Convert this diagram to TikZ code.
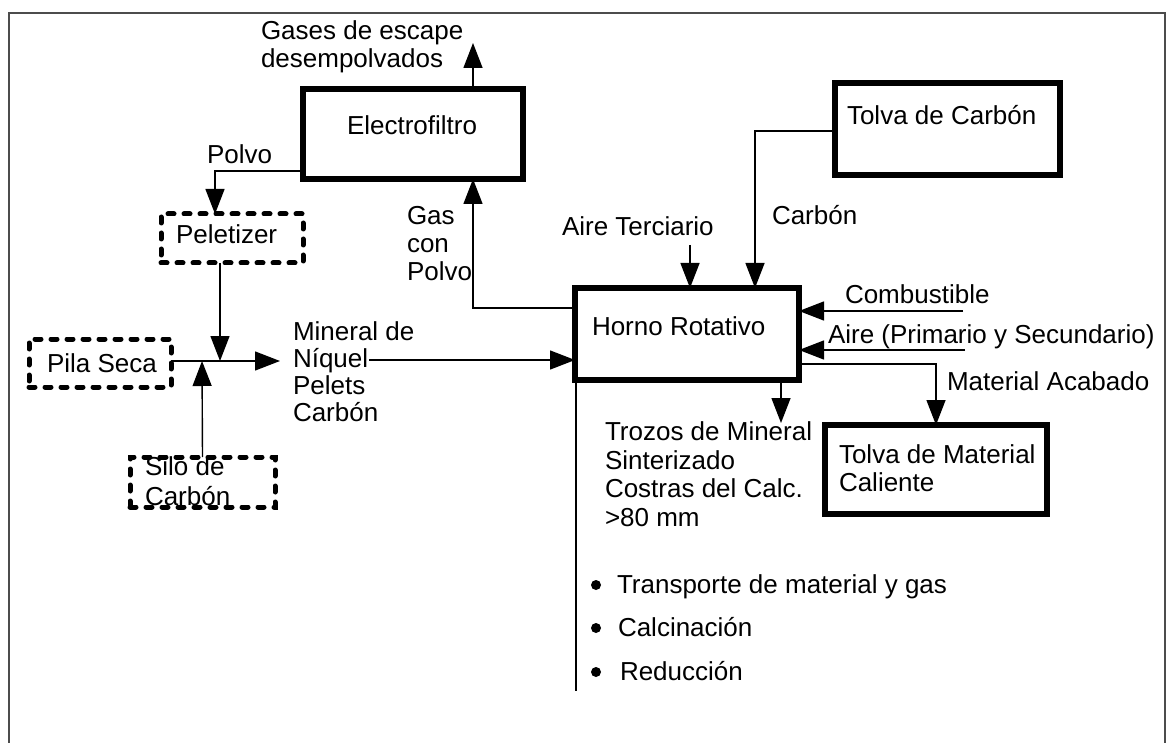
\documentclass[tikz,border=0pt]{standalone}
\usepackage{fontspec}
\setmainfont{Liberation Sans}
\usetikzlibrary{arrows.meta}
\begin{document}
\begin{tikzpicture}[x=1pt,y=-1pt,
  every node/.style={inner sep=0pt, outer sep=0pt},
  lbl/.style={anchor=base west, font=\fontsize{26}{28}\selectfont},
  thickbox/.style={draw, line width=6pt, rectangle, minimum width=#1},
  dotbox/.style={draw, line width=5pt, line cap=round, dash pattern=on 6pt off 10pt, rectangle, minimum width=#1},
  wire/.style={line width=1.4pt},
  arr/.style={wire, -{Triangle[length=25pt,width=19pt]}},
  bul/.style={circle, fill, minimum size=10pt}]
% page and outer frame
\useasboundingbox (0,0) rectangle (1167,743);
\fill[white] (0,0) rectangle (1167,743);
\draw[line width=2pt, black!70] (9,743) -- (9,13) -- (1165,13) -- (1165,743);

% process units
\node[thickbox=220pt, minimum height=90pt] (elec) at (413,134) {};
\node[thickbox=225pt, minimum height=92pt] (tcarb) at (947.5,129) {};
\node[thickbox=224pt, minimum height=92pt] (horno) at (687,334) {};
\node[thickbox=222pt, minimum height=89pt] (tmat) at (936,469.5) {};
\node[dotbox=142pt, minimum height=49pt] (pel) at (232,238.5) {};
\node[dotbox=142pt, minimum height=48pt] (pila) at (100,363) {};
\node[dotbox=145pt, minimum height=50pt] (silo) at (202.5,482) {};

% unit names
\node[lbl] (telec) at (347,135) {Electrofiltro};
\node[lbl] (ttcarb) at (847,125) {Tolva de Carbón};
\node[lbl] (thorno) at (592,335) {Horno Rotativo};
\node[lbl] (ttmat1) at (839,463) {Tolva de Material};
\node[lbl] (ttmat2) at (839,491) {Caliente};
\node[lbl] (tpel) at (176,244) {Peletizer};
\node[lbl] (tpila) at (47,372) {Pila Seca};
\node[lbl] (tsilo1) at (145,475) {Silo de};
\node[lbl] (tsilo2) at (145,505) {Carbón};

% stream labels
\node[lbl] (lgas1) at (261,40) {Gases de escape};
\node[lbl] (lgas2) at (261,68) {desempolvados};
\node[lbl] (lpolvo) at (207,164) {Polvo};
\node[lbl] (lgcp1) at (407,225) {Gas};
\node[lbl] (lgcp2) at (407,253) {con};
\node[lbl] (lgcp3) at (407,281) {Polvo};
\node[lbl] (lterc) at (562,236) {Aire Terciario};
\node[lbl] (lcarb) at (772,225) {Carbón};
\node[lbl] (lcomb) at (845,303) {Combustible};
\node[lbl] (laire) at (828,343) {Aire (Primario y Secundario)};
\node[lbl] (lacab) at (947,390) {Material Acabado};
\node[lbl] (lmin1) at (293,340) {Mineral de};
\node[lbl] (lmin2) at (293,367) {Níquel};
\node[lbl] (lmin3) at (293,394) {Pelets};
\node[lbl] (lmin4) at (293,421) {Carbón};
\node[lbl] (ltroz1) at (605,440) {Trozos de Mineral};
\node[lbl] (ltroz2) at (605,469) {Sinterizado};
\node[lbl] (ltroz3) at (605,497) {Costras del Calc.};
\node[lbl] (ltroz4) at (605,526) {>80 mm};

% kiln functions
\node[bul] (b1) at (596,585) {};
\node[bul] (b2) at (596,628) {};
\node[bul] (b3) at (596,672) {};
\node[lbl] (f1) at (617,593) {Transporte de material y gas};
\node[lbl] (f2) at (618,636) {Calcinación};
\node[lbl] (f3) at (620,680) {Reducción};

% connector corners and free ends
\coordinate (gtip) at (473,43);
\coordinate (pc) at (215,171);
\coordinate (jn) at (220,361);
\coordinate (js) at (202,361);
\coordinate (mtip) at (280,361);
\coordinate (mstart) at (369,360);
\coordinate (gc) at (473,308);
\coordinate (atop) at (690,245);
\coordinate (cc) at (755,131);
\coordinate (cb) at (963,311);
\coordinate (ap) at (965,350);
\coordinate (mc) at (936,364);
\coordinate (tz) at (781,423);
\coordinate (vl) at (576,691);

% connectors
\draw[arr] (elec.north -| gtip) -- (gtip);
\draw[arr] (elec.west |- pc) -- (pc) -- (pc |- pel.north);
\draw[arr] (pel.south -| jn) -- (jn);
\draw[arr] (silo.north) -- (js);
\draw[arr] (pila.east |- jn) -- (mtip);
\draw[arr] (mstart) -- (mstart -| horno.west);
\draw[arr] (horno.west |- gc) -- (gc) -- (gc |- elec.south);
\draw[arr] (atop) -- (atop |- horno.north);
\draw[arr] (tcarb.west |- cc) -- (cc) -- (cc |- horno.north);
\draw[arr] (cb) -- (cb -| horno.east);
\draw[arr] (ap) -- (ap -| horno.east);
\draw[arr] (horno.east |- mc) -- (mc) -- (mc |- tmat.north);
\draw[arr] (tz |- horno.south) -- (tz);
\draw[wire] (vl |- horno.south) -- (vl);
\end{tikzpicture}
\end{document}
